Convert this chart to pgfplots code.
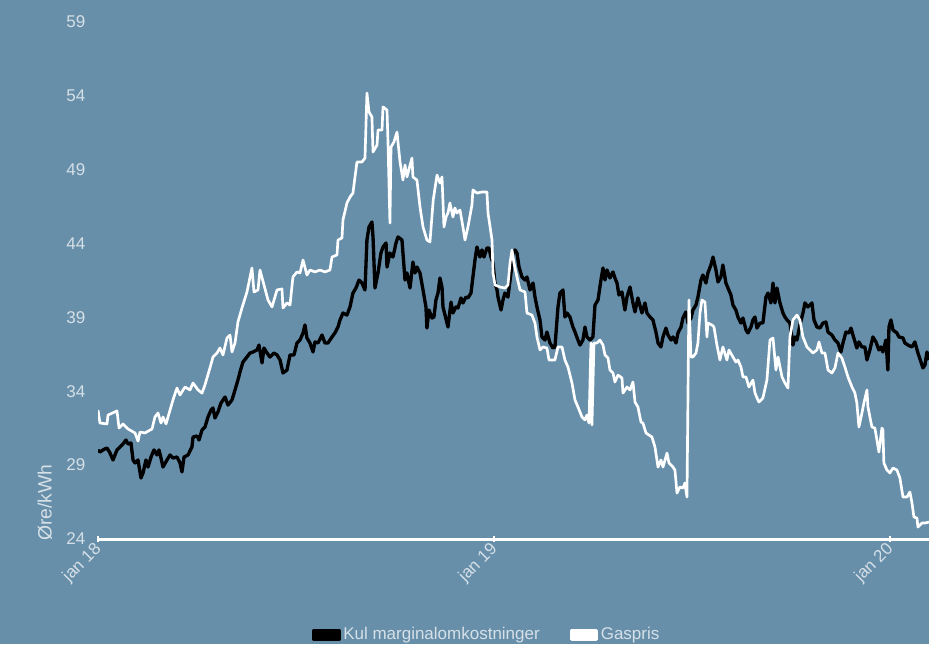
\documentclass[border=0pt]{standalone}
\usepackage{fontspec}
\setmainfont{Liberation Sans}
\usepackage{pgfplots}
\pgfplotsset{compat=1.18}
\definecolor{bg}{RGB}{103,143,170}
\definecolor{tc}{RGB}{214,224,231}
\begin{document}
\fontsize{12.75pt}{15pt}\selectfont
\begin{tikzpicture}
\fill[bg] (0,0) rectangle (696.75pt,483pt);
\useasboundingbox (0,0) rectangle (696.75pt,483pt);
\begin{axis}[
  at={(73.5pt,78.75pt)}, anchor=south west,
  scale only axis, width=623.25pt, height=387.75pt,
  xmin=0, xmax=766, ymin=24, ymax=59,
  axis x line=bottom, axis y line=left,
  x axis line style={-, white, line width=2.25pt},
  y axis line style={draw=none},
  xtick={0,365,730}, xticklabels={jan 18,jan 19,jan 20},
  ytick={24,29,34,39,44,49,54,59},
  xtick style={white, line width=1.2pt},
  ytick style={draw=none},
  major tick length=4pt, tick align=center,
  /pgf/number format/assume math mode=true,
  every tick label/.append style={font=\fontsize{12.75pt}{15pt}\selectfont, text=tc},
  xticklabel style={rotate=45, anchor=east, inner sep=2pt, yshift=-3pt},
  yticklabel style={xshift=-3pt},
  ylabel={Øre/kWh},
  ylabel style={at={(axis description cs:-0.0638,-0.004)}, anchor=west, text=tc, inner sep=0pt, font=\fontsize{14.5pt}{16pt}\selectfont},
  clip=true,
  legend style={at={(axis description cs:0.2575,-0.1857)}, anchor=west, draw=none, fill=none, text=tc,
    font=\fontsize{12.75pt}{15pt}\selectfont, inner sep=0pt,
    /tikz/every even column/.append style={column sep=21pt}},
  legend columns=2,
  legend cell align=left,
  legend image code/.code={\fill[#1] (0pt,-3.4pt) rectangle (18.75pt,3.4pt);},
]
\addplot[black, line width=2.5pt, line join=round] coordinates {
(0,30.03)(1.8,29.89)(4.6,30.03)(8.3,30.16)(11.1,29.82)(13.8,29.35)(17.5,30.03)(20.3,30.23)(23.0,30.43)(25.8,30.70)(27.7,30.43)(30.4,30.50)(32.3,29.35)(34.1,29.15)(36.9,29.35)(39.6,28.13)(41.5,28.47)(44.2,29.35)(46.1,28.87)(48.9,29.55)(51.6,30.03)(54.4,29.69)(56.2,30.03)(58.1,29.48)(59.9,28.87)(63.6,29.35)(66.4,29.69)(69.1,29.48)(72.8,29.55)(75.6,29.15)(77.4,28.54)(79.3,29.55)(83.0,29.69)(86.6,30.23)(87.6,30.91)(91.3,30.97)(93.1,30.70)(95.9,31.38)(98.6,31.58)(101.4,32.26)(104.2,32.73)(106.0,32.87)(107.8,32.19)(110.6,32.60)(113.4,33.21)(117.1,33.61)(119.8,33.07)(123.5,33.41)(126.3,34.09)(129.0,34.76)(130.9,35.31)(133.6,35.98)(137.3,36.32)(140.1,36.59)(142.9,36.66)(146.6,36.80)(148.4,37.13)(151.2,35.92)(153.0,36.93)(155.8,36.59)(158.5,36.32)(162.2,36.59)(165.0,36.46)(167.8,36.12)(170.5,35.24)(174.2,35.44)(177.0,36.46)(180.7,36.46)(183.4,37.27)(186.2,37.47)(189.0,37.95)(190.8,38.49)(192.6,37.61)(195.4,37.27)(198.2,36.66)(200.0,37.34)(202.8,37.27)(206.5,37.81)(209.2,37.27)(212.0,37.27)(215.7,37.68)(218.4,37.95)(221.2,38.35)(223.1,38.83)(225.8,39.30)(229.5,39.16)(232.3,39.71)(235.0,40.65)(237.8,40.99)(240.6,41.53)(243.3,41.33)(246.1,40.86)(247.9,44.24)(249.8,45.12)(252.5,45.46)(253.5,44.45)(255.3,40.99)(258.1,42.01)(260.8,43.36)(262.7,43.77)(265.5,44.04)(266.4,42.41)(269.1,43.36)(271.9,43.09)(274.7,44.04)(276.5,44.45)(280.2,44.24)(281.1,43.36)(283.0,41.53)(284.8,42.01)(287.6,40.99)(290.3,42.75)(292.2,42.01)(294.0,42.41)(296.8,42.01)(299.6,40.86)(302.3,39.71)(303.2,38.28)(305.1,39.50)(307.9,38.96)(309.7,39.03)(311.5,40.18)(313.4,40.65)(315.2,41.67)(317.1,41.06)(318.0,39.71)(321.7,38.62)(322.6,38.35)(325.4,40.04)(327.2,39.30)(330.0,39.71)(331.8,39.64)(334.6,40.32)(336.4,39.98)(339.2,40.38)(341.0,40.32)(343.8,40.65)(345.6,41.74)(347.5,42.89)(349.3,43.77)(352.1,43.09)(353.9,43.57)(355.8,43.09)(358.5,43.70)(360.4,43.70)(362.2,43.09)(364.1,42.69)(365.9,41.33)(367.8,40.86)(368.7,40.38)(371.5,39.50)(373.3,40.18)(375.1,40.65)(377.9,40.38)(380.7,42.01)(382.5,43.36)(384.4,43.57)(386.2,43.36)(388.1,42.41)(390.8,41.74)(393.6,41.53)(395.4,41.74)(398.2,40.86)(401.0,41.33)(402.8,40.38)(404.6,39.71)(407.4,38.83)(409.2,37.68)(412.0,37.47)(413.8,38.01)(416.6,37.27)(419.4,36.93)(421.2,37.00)(424.0,39.71)(425.8,40.65)(428.6,40.86)(430.4,39.03)(432.3,39.30)(435.0,39.03)(437.8,38.35)(439.7,38.01)(442.4,37.47)(444.3,37.13)(447.0,37.47)(448.9,38.35)(450.7,37.68)(453.5,37.47)(456.2,37.68)(458.1,39.84)(460.9,40.18)(463.6,41.53)(465.5,42.35)(467.3,41.53)(469.2,42.21)(471.9,41.67)(474.7,42.08)(476.5,41.67)(478.4,41.33)(480.2,40.52)(483.0,40.72)(485.7,39.50)(487.6,40.38)(490.4,41.06)(493.1,39.98)(495.0,39.37)(497.7,40.32)(501.4,39.30)(504.2,39.98)(506.0,39.30)(508.8,39.03)(511.5,38.83)(514.3,38.01)(516.2,37.27)(518.9,37.00)(520.8,37.68)(523.5,38.28)(525.4,37.81)(528.2,37.47)(530.0,37.68)(532.8,37.27)(534.6,37.95)(537.4,38.35)(539.2,38.96)(542.0,39.37)(543.8,38.62)(546.6,38.96)(548.4,39.50)(551.2,39.84)(553.0,40.38)(555.8,41.53)(557.6,41.87)(560.4,41.33)(562.2,42.01)(565.0,42.55)(566.9,43.09)(569.6,42.21)(571.5,41.40)(574.2,41.74)(576.0,42.55)(578.8,41.33)(580.7,40.99)(583.4,40.52)(585.3,39.84)(588.0,39.50)(589.9,39.03)(592.7,38.62)(594.5,38.96)(597.3,38.15)(599.1,37.95)(601.9,38.35)(603.7,38.83)(605.6,39.03)(607.4,38.28)(610.2,38.62)(612.9,38.62)(615.7,40.38)(617.6,40.65)(620.3,39.98)(622.2,41.33)(624.0,39.98)(625.8,40.99)(628.6,39.98)(631.4,39.30)(633.2,39.03)(635.1,38.83)(637.8,38.62)(640.6,37.13)(642.4,37.68)(644.3,37.47)(647.0,38.49)(649.8,39.30)(651.7,39.98)(654.4,39.71)(658.1,39.98)(660.0,38.83)(662.7,38.35)(665.5,38.28)(668.3,38.62)(671.0,38.69)(672.9,38.01)(676.5,37.81)(679.3,37.47)(682.1,37.27)(684.8,36.66)(686.7,37.27)(689.4,38.01)(692.2,37.95)(694.1,38.28)(695.9,37.81)(699.5,36.93)(701.4,37.34)(704.2,37.00)(706.9,37.00)(708.8,36.12)(711.5,36.80)(714.3,37.68)(717.1,37.34)(719.8,36.80)(721.7,37.00)(723.5,36.66)(726.3,37.47)(728.1,35.44)(729.1,38.35)(730.9,38.83)(732.8,38.15)(736.4,37.95)(738.3,37.68)(742.0,37.61)(743.8,37.27)(746.6,37.13)(750.3,37.00)(753.0,37.34)(755.8,36.59)(758.6,35.98)(760.4,35.58)(762.3,35.78)(764.1,36.66)(766.0,36.12)
};
\addlegendentry{Kul marginalomkostninger}
\addplot[white, line width=2pt, line join=round] coordinates {
(0,32.73)(1.8,31.85)(8.3,31.79)(9.2,32.39)(17.5,32.67)(19.4,31.51)(23.0,31.79)(27.7,31.45)(34.1,31.18)(36.9,30.63)(38.7,31.24)(43.3,31.18)(49.8,31.45)(52.5,32.26)(55.3,32.53)(58.1,31.85)(59.9,32.26)(62.7,31.79)(66.4,32.73)(69.1,33.41)(72.8,34.22)(75.6,33.75)(80.2,34.29)(84.8,34.09)(87.6,34.56)(92.2,34.09)(95.9,33.88)(98.6,34.43)(103.2,35.58)(106.0,36.32)(109.7,36.59)(112.4,36.93)(115.2,36.46)(118.9,37.61)(121.7,37.81)(123.5,36.66)(126.3,37.27)(129.0,38.69)(132.7,39.64)(137.3,40.72)(141.9,42.35)(143.8,40.72)(147.5,40.86)(149.3,42.21)(153.0,41.20)(156.7,40.18)(160.4,39.71)(165.0,40.86)(169.6,40.93)(170.5,39.64)(174.2,39.98)(177.0,39.84)(179.7,41.74)(183.4,42.08)(186.2,42.01)(189.0,42.89)(192.6,41.87)(195.4,42.21)(200.0,42.08)(204.6,42.21)(209.2,42.08)(213.8,42.21)(215.7,43.09)(220.3,43.23)(221.2,44.24)(224.9,44.38)(225.8,45.60)(229.5,46.75)(232.3,47.15)(235.0,47.42)(236.9,48.51)(238.7,49.52)(243.3,49.52)(246.1,49.79)(247.9,54.19)(249.8,52.91)(252.5,52.57)(253.5,50.20)(257.2,50.67)(258.1,51.69)(261.8,51.69)(262.7,53.25)(266.4,53.04)(267.3,50.88)(269.1,45.39)(270.1,50.54)(272.8,50.88)(275.6,51.55)(278.4,49.52)(281.1,48.30)(283.0,49.32)(284.8,48.51)(289.4,49.79)(290.3,48.51)(294.0,48.30)(296.8,46.48)(299.6,45.12)(303.2,44.24)(306.0,44.11)(309.0,46.95)(312.5,48.64)(315.2,48.10)(317.1,48.51)(318.9,45.12)(320.8,45.80)(322.6,46.07)(324.4,46.75)(327.2,45.80)(329.0,46.41)(330.9,46.07)(333.7,46.27)(336.4,45.12)(338.3,44.24)(341.0,45.12)(344.7,46.61)(345.6,47.63)(349.3,47.42)(353.9,47.49)(358.5,47.49)(359.5,46.07)(363.2,44.24)(364.1,42.01)(365.9,41.20)(370.5,41.06)(375.1,40.99)(377.9,41.20)(379.8,42.69)(381.6,43.57)(383.4,42.69)(386.2,41.74)(389.0,40.86)(393.6,40.72)(395.4,39.30)(400.0,39.16)(402.8,38.62)(404.6,37.68)(407.4,36.80)(410.2,37.00)(413.8,36.93)(415.7,36.12)(421.2,36.12)(424.0,37.00)(427.7,37.00)(430.4,36.12)(433.2,35.64)(436.9,34.56)(439.7,33.41)(442.4,32.94)(446.1,32.26)(448.9,32.06)(450.7,32.39)(452.6,31.85)(454.4,37.27)(455.3,31.72)(457.2,37.27)(459.9,37.27)(462.7,37.47)(465.5,37.13)(467.3,36.46)(470.1,36.25)(471.9,35.44)(474.7,35.24)(476.5,34.63)(479.3,35.10)(483.0,34.90)(483.9,33.88)(487.6,34.29)(490.4,34.09)(493.1,34.63)(495.0,33.27)(497.7,32.94)(500.5,31.92)(502.3,31.85)(505.1,31.18)(507.8,31.04)(510.6,30.91)(513.4,30.23)(516.2,28.87)(518.9,29.35)(520.8,28.87)(524.5,29.82)(526.3,29.15)(530.0,28.87)(531.8,28.67)(533.7,27.11)(536.4,27.52)(539.2,27.45)(541.0,27.79)(542.9,26.84)(544.7,40.18)(546.6,36.32)(548.4,36.32)(551.2,36.59)(553.0,37.27)(554.9,39.30)(556.7,40.18)(559.5,40.04)(561.3,37.68)(562.2,38.62)(565.9,38.49)(567.8,38.35)(570.5,37.13)(573.3,36.12)(576.0,37.00)(579.7,36.12)(581.6,36.80)(585.3,36.32)(588.0,35.98)(589.9,36.12)(592.7,35.64)(594.5,34.97)(597.3,34.97)(600.0,34.29)(603.7,34.76)(605.6,33.88)(608.3,33.41)(609.3,33.27)(612.9,33.55)(616.6,34.76)(619.4,37.47)(622.2,37.61)(624.9,35.44)(626.8,36.32)(630.5,34.97)(633.2,34.56)(636.0,34.22)(637.8,37.68)(640.6,38.83)(644.3,39.16)(647.0,38.83)(649.8,37.68)(653.5,37.00)(656.3,36.80)(659.0,36.59)(662.7,36.80)(664.6,37.34)(667.3,36.59)(670.1,36.59)(672.9,35.44)(676.5,35.24)(679.3,35.58)(682.1,36.59)(685.7,36.25)(688.5,35.64)(691.3,34.97)(695.0,34.29)(697.7,33.88)(699.5,33.21)(701.4,31.58)(704.2,32.53)(706.0,33.21)(708.8,34.09)(709.7,32.94)(713.4,31.58)(716.1,31.51)(718.0,30.70)(719.8,29.89)(722.6,31.51)(723.5,31.38)(724.4,29.15)(727.2,28.67)(730.0,28.47)(732.8,28.81)(736.4,28.67)(739.2,28.13)(742.0,26.84)(745.7,26.84)(748.4,27.18)(750.3,26.44)(752.1,25.49)(754.9,25.42)(755.8,24.81)(759.5,25.08)(762.3,25.08)(766.0,25.15)
};
\addlegendentry{Gaspris}
\end{axis}
\end{tikzpicture}
\end{document}
